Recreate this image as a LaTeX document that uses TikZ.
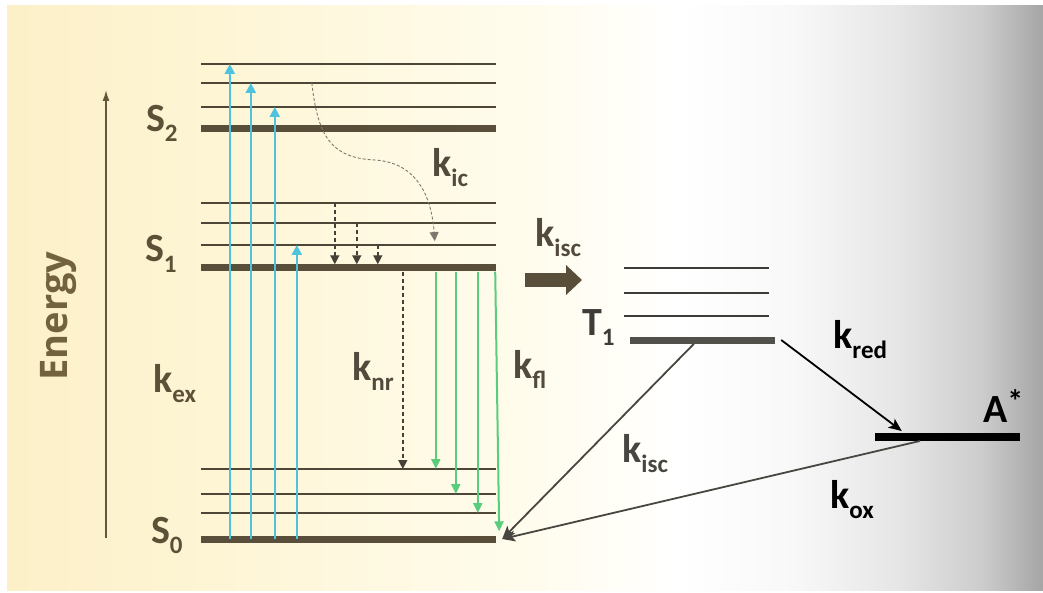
\documentclass[tikz,border=0pt]{standalone}
\usepackage{fontspec}
\setmainfont{Carlito}
\newfontfamily\energyfont{Open Sans}
\usetikzlibrary{arrows.meta,positioning,calc}
\definecolor{levelbrown}{RGB}{88,78,58}
\definecolor{sublevelbrown}{RGB}{78,70,55}
\definecolor{tripletgrey}{RGB}{82,80,75}
\definecolor{tsubgrey}{RGB}{62,60,56}
\definecolor{labelbrown}{RGB}{82,74,60}
\definecolor{statebrown}{RGB}{92,80,55}
\definecolor{energybrown}{RGB}{115,98,62}
\definecolor{axisbrown}{RGB}{100,86,58}
\definecolor{exblue}{RGB}{78,195,222}
\definecolor{flgreen}{RGB}{90,205,125}
\definecolor{relaxgrey}{RGB}{70,65,55}
\definecolor{icgrey}{RGB}{125,120,110}
\definecolor{iscgrey}{RGB}{72,70,64}
\definecolor{bgA}{RGB}{252,240,200}
\definecolor{bgB}{RGB}{254,246,216}
\definecolor{bgC}{RGB}{255,252,237}
\definecolor{bgD}{RGB}{248,248,248}
\definecolor{bgE}{RGB}{230,230,230}
\definecolor{bgF}{RGB}{205,205,205}
\definecolor{bgG}{RGB}{165,165,165}
\pgfdeclarehorizontalshading{bgshade}{100bp}{color(0bp)=(bgA); color(25bp)=(bgA);
  color(37bp)=(bgB); color(50bp)=(bgC); color(57.5bp)=(white); color(63bp)=(bgD);
  color(68bp)=(bgE); color(72bp)=(bgF); color(75bp)=(bgG); color(100bp)=(bgG)}
\newcommand{\lowsub}[1]{\raisebox{-10pt}{\fontsize{25}{25}\selectfont #1}}
\tikzset{
  statelevel/.style={
    draw=none,
    fill=levelbrown,
    inner sep=0pt,
    minimum height=7pt,
    minimum width=295pt
  },
  sublevel/.style={statelevel, fill=sublevelbrown, minimum height=1.4pt},
  tlevel/.style={statelevel, fill=tripletgrey, minimum width=145pt},
  tsublevel/.style={tlevel, fill=tsubgrey, minimum height=1.4pt},
  exflow/.style={-{Triangle[length=10pt,width=10pt]}, line width=2.4pt, draw=exblue},
  flflow/.style={-{Triangle[length=10pt,width=9pt]}, line width=2pt, draw=flgreen},
  relaxflow/.style={-{Triangle[length=9pt,width=9pt]}, line width=1.4pt, draw=relaxgrey,
    dash pattern=on 4pt off 3pt},
  icflow/.style={-{Triangle[length=9pt,width=9pt]}, line width=0.9pt, draw=icgrey,
    dash pattern=on 3pt off 2pt},
  iscflow/.style={-{Stealth[length=13pt,width=11pt,inset=3pt]}, line width=1.8pt, draw=iscgrey},
  redflow/.style={iscflow, draw=black},
  iscbig/.style={-{Triangle[length=16pt,width=29pt]}, line width=14pt, draw=levelbrown},
  energyflow/.style={-{Latex[length=11pt,width=7pt]}, line width=1.5pt, draw=axisbrown},
  ratelabel/.style={font=\fontsize{40}{42}\selectfont\bfseries, text=labelbrown,
    inner sep=0pt, anchor=base west},
  statelabel/.style={ratelabel, text=statebrown, anchor=base east}
}
\begin{document}
\begin{tikzpicture}[x=1pt,y=-1pt]
  \useasboundingbox (0,0) rectangle (1043,593);
  \fill[shading=bgshade] (7,6) rectangle (1043,590);

  % singlet manifold
  \node[statelevel] (s2) at (348.5,129) {};
  \node[statelevel] (s1) at (348.5,268) {};
  \node[statelevel] (s0) at (348.5,539) {};
  \foreach \n/\y in {s2d/64,s2c/83,s2b/107,s1c/203,s1b/223,s1a/245,s0c/469,s0b/494,s0a/513}
    \node[sublevel] (\n) at (348.5,\y) {};

  % triplet and acceptor
  \node[tlevel] (t1) at (702.5,340) {};
  \foreach \n/\y in {t1c/268,t1b/293,t1a/316}
    \node[tsublevel] (\n) at (696.5,\y) {};
  \node[statelevel, fill=black, minimum width=145pt, minimum height=7.5pt] (astar) at (947.5,437) {};

  % labels
  \node[statelabel] (s2lab) at ([xshift=-23pt,yshift=-3pt]s2.west) {S\lowsub{2}};
  \node[statelabel] (s1lab) at ([xshift=-24pt,yshift=6pt]s1.west) {S\lowsub{1}};
  \node[statelabel] (s0lab) at ([xshift=-18pt,yshift=-4pt]s0.west) {S\lowsub{0}};
  \node[statelabel, text=tsubgrey] (t1lab) at ([xshift=-15pt,yshift=5pt]t1.west) {T\lowsub{1}};
  \node[ratelabel, text=black] (astarlab) at (983,422) {A\raisebox{10pt}{\fontsize{32}{32}\selectfont *}};
  \node[ratelabel, text=statebrown] (kex) at (153,392) {k\lowsub{ex}};
  \node[ratelabel] (kic) at (432,177) {k\lowsub{ic}};
  \node[ratelabel] (kiscup) at (535,247) {k\lowsub{isc}};
  \node[ratelabel] (knr) at (352,380) {k\lowsub{nr}};
  \node[ratelabel] (kfl) at (513,378) {k\lowsub{fl}};
  \node[ratelabel, text=iscgrey] (kisclow) at (622,462) {k\lowsub{isc}};
  \node[ratelabel, text=black] (kred) at (833,348) {k\lowsub{red}};
  \node[ratelabel, text=black] (kox) at (830,508) {k\lowsub{ox}};
  \node[rotate=90, inner sep=0pt, text=energybrown,
    font=\energyfont\fontsize{38}{40}\selectfont\bfseries] (energy) at (58,316) {Energy};

  % energy axis
  \coordinate (ebot) at (106,538);
  \coordinate (etop) at (106,90);
  \draw[energyflow] (ebot) -- (etop);

  % absorption
  \foreach \dx/\lv in {29/s2d,50/s2c,74/s2b,96/s1a}
    \draw[exflow] ([xshift=\dx pt]s0.west) -- ([xshift=\dx pt]\lv.west);

  % vibrational relaxation and internal conversion
  \foreach \dx/\lv in {134/s1c,156/s1b,177/s1a}
    \draw[relaxflow] ([xshift=\dx pt]\lv.west) -- ([xshift=\dx pt]s1.north west);
  \coordinate (icmid) at (375,160);
  \draw[icflow] ([xshift=111pt]s2c.west) .. controls +(6,52) and +(-45,-2) .. (icmid)
    .. controls +(45,3) and +(-3,-40) .. ([xshift=234pt,yshift=3pt]s1a.north west);
  \draw[relaxflow] ([xshift=202pt]s1.south west) -- ([xshift=202pt]s0c.west);

  % fluorescence
  \foreach \dx/\lv in {235/s0c,255/s0b,277/s0a}
    \draw[flflow] ([xshift=\dx pt]s1.south west) -- ([xshift=\dx pt]\lv.west);
  \draw[flflow] ([xshift=-1pt]s1.south east) -- ([xshift=3pt,yshift=4pt]s0.north east);

  % intersystem crossing and electron transfer
  \coordinate (iscA) at (525,280);
  \coordinate (iscB) at (582,280);
  \draw[iscbig] (iscA) -- (iscB);
  \draw[iscflow] ([xshift=-8.5pt]t1.south) -- ([xshift=6pt]s0.east);
  \draw[iscflow] ([xshift=-27.5pt]astar.south) -- ([xshift=6pt]s0.east);
  \draw[redflow] ([xshift=6pt]t1.east) -- ([xshift=27pt,yshift=2pt]astar.north west);
\end{tikzpicture}
\end{document}
